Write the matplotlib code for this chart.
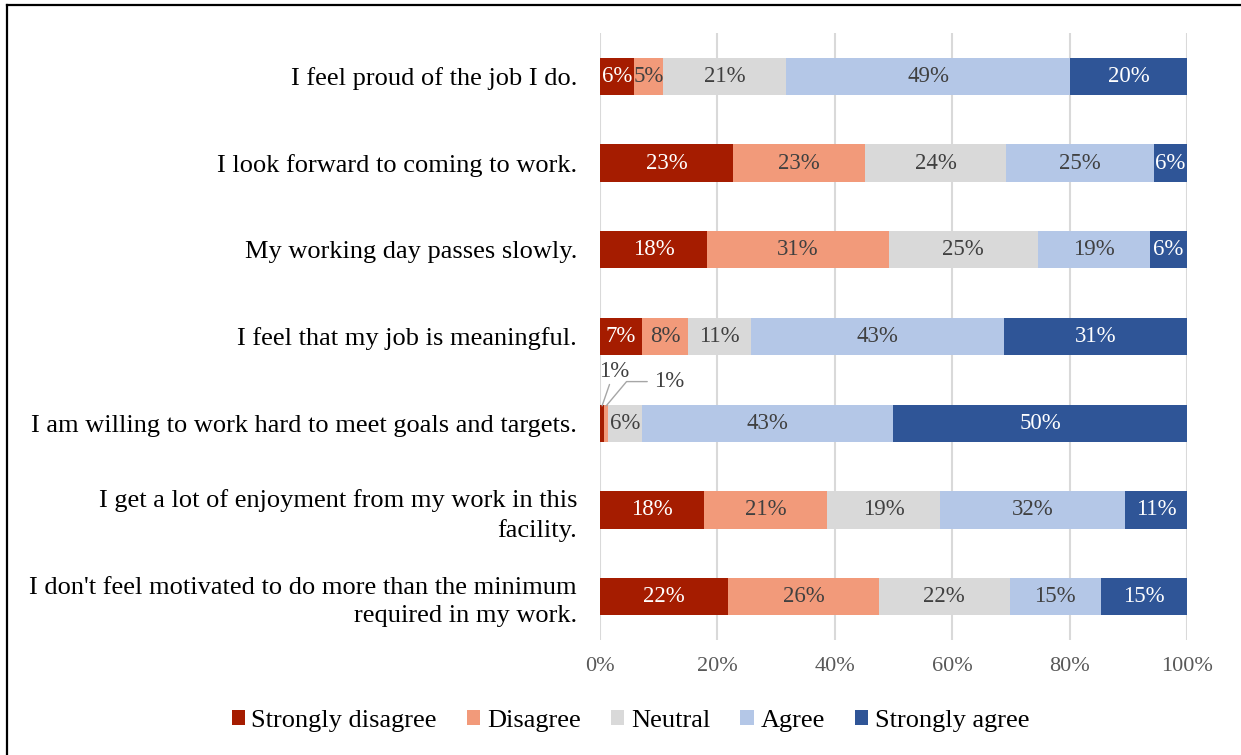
import numpy as np
import matplotlib.pyplot as plt
from matplotlib.lines import Line2D

plt.rcParams['font.family'] = ['Liberation Serif', 'DejaVu Serif']

statements = [
    "I feel proud of the job I do.",
    "I look forward to coming to work.",
    "My working day passes slowly.",
    "I feel that my job is meaningful.",
    "I am willing to work hard to meet goals and targets.",
    "I get a lot of enjoyment from my work in this\nfacility.",
    "I don't feel motivated to do more than the minimum\nrequired in my work.",
]
categories = ["Strongly disagree", "Disagree", "Neutral", "Agree", "Strongly agree"]

# shares (%) per statement
strongly_disagree = [5.8, 22.7, 18.2, 7.2, 0.7, 17.7, 21.8]
disagree = [4.9, 22.4, 31.0, 7.8, 0.7, 21.0, 25.7]
neutral = [21.0, 24.1, 25.4, 10.7, 5.8, 19.2, 22.3]
agree = [48.4, 25.2, 19.1, 43.1, 42.7, 31.5, 15.5]
strongly_agree = [19.9, 5.6, 6.3, 31.2, 50.1, 10.6, 14.7]

# printed labels
labels_sd = ["6%", "23%", "18%", "7%", "1%", "18%", "22%"]
labels_d = ["5%", "23%", "31%", "8%", "1%", "21%", "26%"]
labels_n = ["21%", "24%", "25%", "11%", "6%", "19%", "22%"]
labels_a = ["49%", "25%", "19%", "43%", "43%", "32%", "15%"]
labels_sa = ["20%", "6%", "6%", "31%", "50%", "11%", "15%"]

colors = ["#A51C00", "#F29A7A", "#D9D9D9", "#B4C7E7", "#2F5597"]
text_colors = ["white", "#404040", "#404040", "#404040", "white"]

fig = plt.figure(figsize=(12.41, 7.55), dpi=100)
ax = fig.add_axes([0.4835, 0.1523, 0.473, 0.804])

y = np.arange(len(statements))
series = [strongly_disagree, disagree, neutral, agree, strongly_agree]
all_labels = [labels_sd, labels_d, labels_n, labels_a, labels_sa]
left = np.zeros(len(statements))
for vals, labs, col, tcol, name in zip(series, all_labels, colors, text_colors, categories):
    vals = np.array(vals)
    ax.barh(y, vals, left=left, height=0.43, color=col, label=name, zorder=2)
    for i, (v, lab) in enumerate(zip(vals, labs)):
        if v < 2:
            continue
        ax.text(left[i] + v / 2, y[i], lab, ha='center', va='center',
                color=tcol, fontsize=16.5, zorder=3)
    left += vals

# small labels with leader lines for the tiny segments
i = 4
ax.annotate(labels_sd[i], xy=(strongly_disagree[i] / 2, i - 0.2),
            xytext=(2.4, i - 0.6), ha='center', va='center', fontsize=16.5, color='#404040',
            arrowprops=dict(arrowstyle='-', color='#A6A6A6', lw=1, shrinkA=0, shrinkB=0))
ax.annotate(labels_d[i], xy=(strongly_disagree[i] + disagree[i] / 2, i - 0.2),
            xytext=(11.8, i - 0.48), ha='center', va='center', fontsize=16.5, color='#404040',
            arrowprops=dict(arrowstyle='-', color='#A6A6A6', lw=1, shrinkA=3, shrinkB=0,
                            connectionstyle='angle,angleA=0,angleB=50,rad=0'))

ax.set_xlim(0, 100)
ax.set_ylim(len(statements) - 0.5, -0.5)
ax.set_yticks(y)
ax.set_yticklabels(statements, fontsize=19, color='black', linespacing=1.35)
ax.set_xticks(np.arange(0, 101, 20))
ax.set_xticklabels([f"{t}%" for t in range(0, 101, 20)], fontsize=16, color='#595959')
ax.tick_params(length=0, axis='both')
ax.tick_params(axis='x', pad=12)
ax.tick_params(axis='y', pad=16.5)
ax.grid(axis='x', color='#D9D9D9', lw=1.5, zorder=0)
for s in ax.spines.values():
    s.set_visible(False)

fig.legend(loc='center', bbox_to_anchor=(0.508, 0.045), ncol=5, frameon=False,
           fontsize=19, handlelength=0.5, handleheight=0.5, handletextpad=0.25,
           columnspacing=1.15)

# frame lines on top and left only, as in the source
fig.add_artist(Line2D([0.0056, 1.0], [0.9934, 0.9934], transform=fig.transFigure,
                      color='black', lw=1.6))
fig.add_artist(Line2D([0.0056, 0.0056], [0.0, 0.9934], transform=fig.transFigure,
                      color='black', lw=1.6))

fig.savefig('out.png', dpi=100)
